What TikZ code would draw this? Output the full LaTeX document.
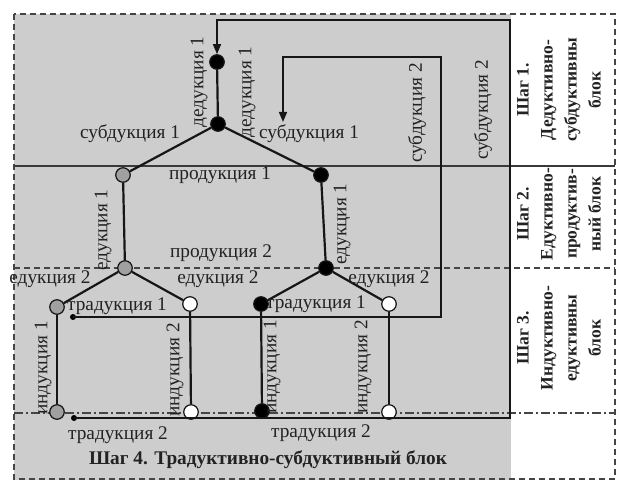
\documentclass[tikz,border=0pt]{standalone}
\usepackage{fontspec}
\setmainfont{Liberation Serif}
\usetikzlibrary{arrows.meta}
\definecolor{bggrey}{HTML}{CDCDCD}
\definecolor{nodegrey}{HTML}{A0A0A0}
\definecolor{ink}{HTML}{161616}
\definecolor{txt}{HTML}{222222}
\tikzset{
  vx/.style={circle,draw=ink,line width=1.2pt,minimum size=14.5pt,inner sep=0pt},
  blk/.style={vx,fill=black},
  gry/.style={vx,fill=nodegrey},
  wht/.style={vx,fill=white},
  smalldot/.style={circle,fill=black,minimum size=6pt,inner sep=0pt},
  edge/.style={draw=ink,line width=2.2pt},
  loopline/.style={draw=ink,line width=1.6pt},
  lbl/.style={font=\fontsize{19.3}{21}\selectfont,text=txt,inner sep=0pt},
  vlbl/.style={lbl,rotate=90},
  steptext/.style={font=\fontsize{17.5}{24}\selectfont\bfseries,text=txt,align=center,rotate=90,inner sep=0pt},
  divsolid/.style={draw=ink!85,line width=1.1pt},
  divdash/.style={draw=ink!80,line width=1.3pt,dash pattern=on 6pt off 4pt},
  divdashdot/.style={draw=ink!80,line width=1.2pt,dash pattern=on 9pt off 3pt on 2pt off 3pt},
}
\begin{document}
\begin{tikzpicture}[x=1pt,y=-1pt]
\useasboundingbox (0,0) rectangle (618,481);
% backgrounds
\fill[white] (0,0) rectangle (618,481);
\fill[bggrey] (14,14) rectangle (511,480);
% outer dashed frame
\draw[divdash] (14,14) rectangle (615,479);
% horizontal dividers
\draw[divsolid] (14,166) -- (615,166);
\draw[divdash] (14,268) -- (615,268);
\draw[divdashdot] (14,413) -- (615,413);

% tree nodes
\node[blk] (D1) at (217,62) {};
\node[blk] (D2) at (218,124) {};
\node[gry] (A1) at (123,175) {};
\node[blk] (B1) at (321,175) {};
\node[gry] (A2) at (125,268) {};
\node[blk] (B2) at (326,268) {};
\node[gry] (A3) at (57,307) {};
\node[wht] (A4) at (190,304) {};
\node[blk] (B3) at (261,304) {};
\node[wht] (B4) at (389,304) {};
\node[gry] (A5) at (57,412) {};
\node[wht] (A6) at (191,412) {};
\node[blk] (B5) at (262,411) {};
\node[wht] (B6) at (389,412) {};
\node[smalldot] (t1) at (73,317) {};
\node[smalldot] (t2) at (74,418) {};

% loop corners
\coordinate (c1) at (441,57);
\coordinate (iA) at (283,122);
\coordinate (c2) at (510,20);

% tree edges
\draw[edge] (D1) -- (D2);
\draw[edge] (D2) -- (A1);
\draw[edge] (D2) -- (B1);
\draw[edge] (A1) -- (A2);
\draw[edge] (B1) -- (B2);
\draw[edge] (A2) -- (A3);
\draw[edge] (A2) -- (A4);
\draw[edge] (B2) -- (B3);
\draw[edge] (B2) -- (B4);
\draw[edge] (A3) -- (A5);
\draw[edge] (A4) -- (A6);
\draw[edge] (B3) -- (B5);
\draw[edge] (B4) -- (B6);

% feedback loops
\draw[loopline,-{Triangle[length=10pt,width=8pt]}] (t1.center) -| (c1) -| (iA);
\draw[loopline,-{Triangle[length=10pt,width=8pt]}] (t2.center) -| (c2) -| (D1.north);

% labels
\node[vlbl] (l1) at (199,82) {дедукция 1};
\node[vlbl] (l2) at (247,92) {дедукция 1};
\node[lbl] (l3) at (130,134) {субдукция 1};
\node[lbl] (l4) at (309,134) {субдукция 1};
\node[vlbl] (l5) at (417,113) {субдукция 2};
\node[vlbl] (l6) at (483,110) {субдукция 2};
\node[lbl] (l7) at (220,175) {продукция 1};
\node[vlbl] (l8) at (103,230) {едукция 1};
\node[vlbl] (l9) at (342,224) {едукция 1};
\node[lbl] (l10) at (221,253) {продукция 2};
\node[lbl] (l11) at (50,279) {едукция 2};
\node[lbl] (l12) at (218,279) {едукция 2};
\node[lbl] (l13) at (389,279) {едукция 2};
\node[lbl] (l14) at (117,306) {традукция 1};
\node[lbl] (l15) at (316,304) {традукция 1};
\node[vlbl] (l16) at (43,368) {индукция 1};
\node[vlbl] (l17) at (175,370) {индукция 2};
\node[vlbl] (l18) at (272,367) {индукция 1};
\node[vlbl] (l19) at (363,367) {индукция 2};
\node[lbl] (l20) at (118,435) {традукция 2};
\node[lbl] (l21) at (321,433) {традукция 2};
\node[lbl,font=\fontsize{19.3}{21}\selectfont\bfseries] (l22) at (268,460) {Шаг 4. Традуктивно-субдуктивный блок};

% step column
\node[steptext] (s1) at (559,90) {Шаг 1.\\Дедуктивно-\\субдуктивны\\блок};
\node[steptext] (s2) at (559,214) {Шаг 2.\\Едуктивно-\\продуктив-\\ный блок};
\node[steptext] (s3) at (559,338) {Шаг 3.\\Индуктивно-\\едуктивны\\блок};
\end{tikzpicture}
\end{document}
